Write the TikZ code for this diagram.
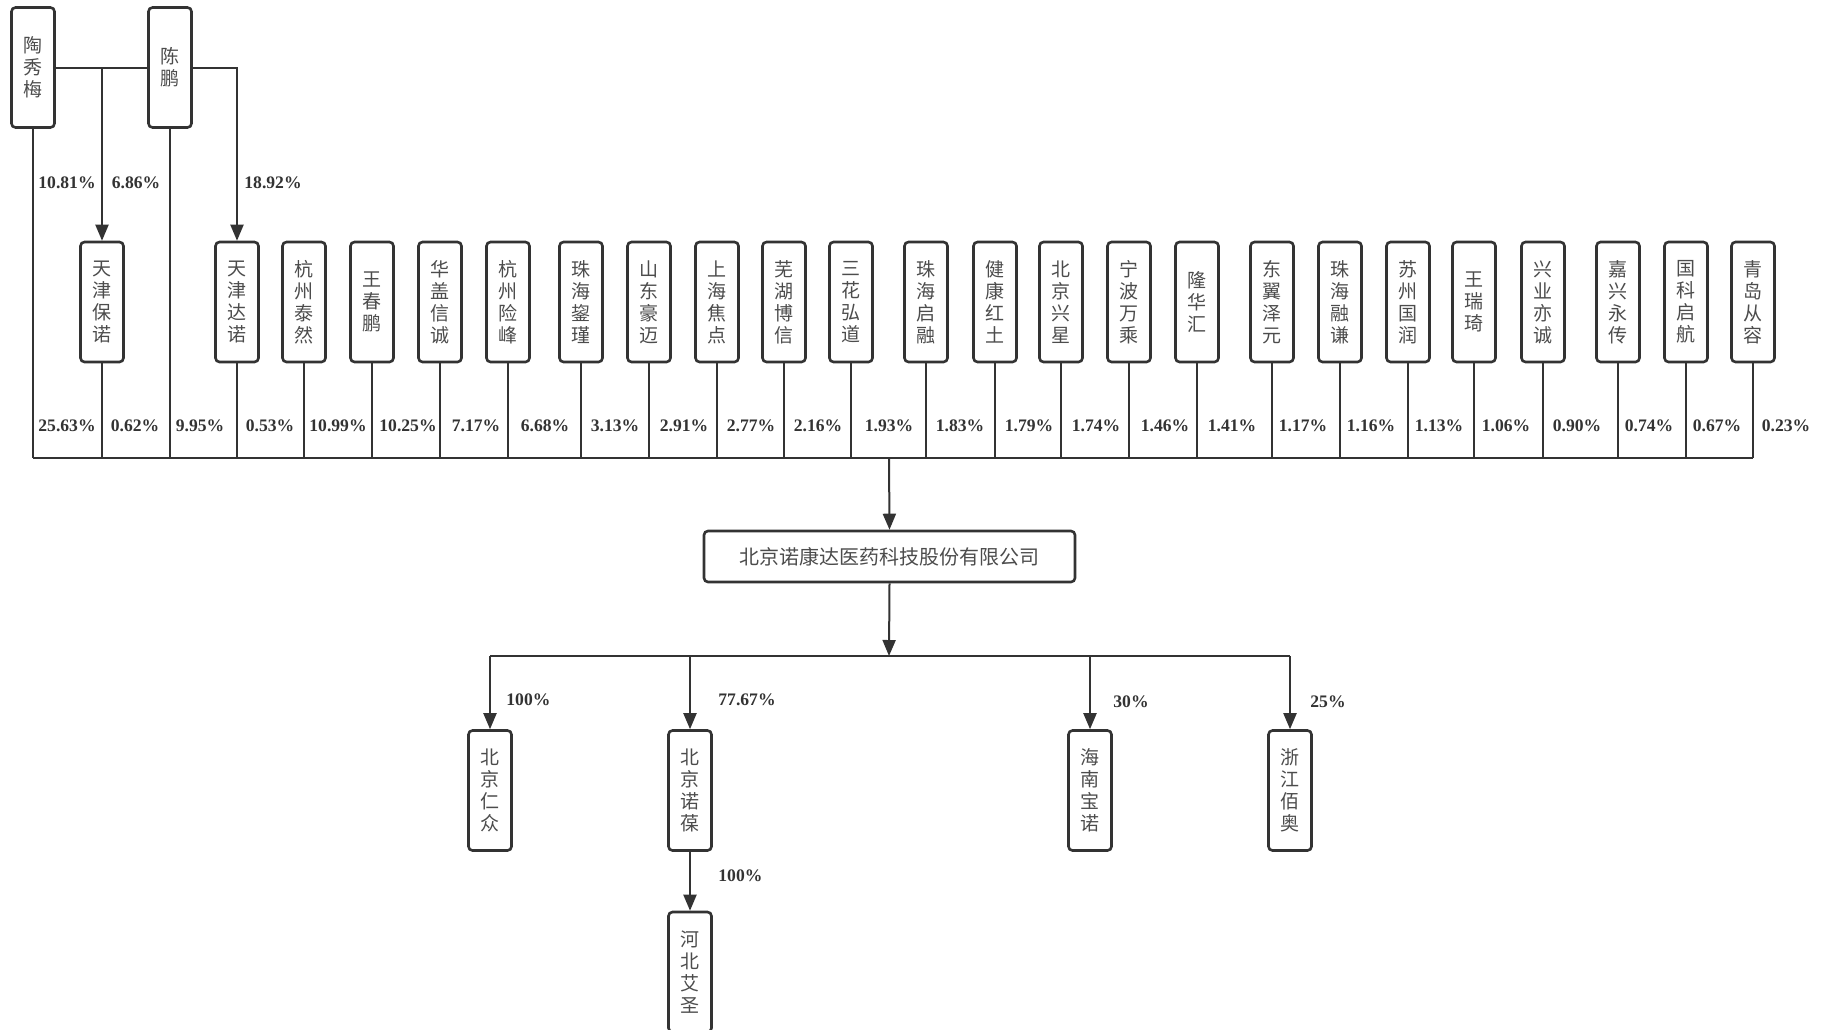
\documentclass[tikz,border=0pt]{standalone}
\usepackage{fontspec}
\setmainfont{Liberation Serif}
\newfontfamily\cjk{Noto Sans CJK SC}
\usetikzlibrary{arrows.meta, calc}

\begin{document}
\begin{tikzpicture}[
    x=0.5pt, y=-0.5pt,
    holder/.style={rectangle, draw=black!80, line width=1.3pt, rounded corners=2pt,
                   minimum width=21.5pt, minimum height=60pt, inner sep=0pt,
                   align=center, font=\cjk\fontsize{9.5}{11}\selectfont, text=black!70},
    comp/.style={rectangle, draw=black!80, line width=1.3pt, rounded corners=2pt,
                 minimum width=185.5pt, minimum height=25.5pt, inner sep=0pt,
                 font=\cjk\fontsize{10}{11}\selectfont, text=black!70},
    pct/.style={font=\bfseries\fontsize{8.8}{10}\selectfont, text=black!80, inner sep=0pt},
    wire/.style={line width=1pt, black!80},
    arr/.style={wire, -{Triangle[length=8pt, width=6.5pt]}},
  ]
    \useasboundingbox (0,0) rectangle (1825,1029);
    \coordinate (bus) at (889,458);
    \coordinate (bus2) at (889,656);
    % shareholders
    \foreach \k/\x/\y/\lx/\nm/\pct in {
        1/33/67.5/67/{陶\\秀\\梅}/25.63, 2/102/302/135/{天\\津\\保\\诺}/0.62,
        3/170/67.5/200/{陈\\鹏}/9.95, 4/237/302/270/{天\\津\\达\\诺}/0.53,
        5/304/302/338/{杭\\州\\泰\\然}/10.99, 6/372/302/408/{王\\春\\鹏}/10.25,
        7/440/302/476/{华\\盖\\信\\诚}/7.17, 8/508/302/545/{杭\\州\\险\\峰}/6.68,
        9/581/302/615/{珠\\海\\鋆\\瑾}/3.13, 10/649/302/684/{山\\东\\豪\\迈}/2.91,
        11/717/302/751/{上\\海\\焦\\点}/2.77, 12/784/302/818/{芜\\湖\\博\\信}/2.16,
        13/851/302/889/{三\\花\\弘\\道}/1.93, 14/926/302/960/{珠\\海\\启\\融}/1.83,
        15/995/302/1029/{健\\康\\红\\土}/1.79, 16/1061/302/1096/{北\\京\\兴\\星}/1.74,
        17/1129/302/1165/{宁\\波\\万\\乘}/1.46, 18/1197/302/1232/{隆\\华\\汇}/1.41,
        19/1272/302/1303/{东\\翼\\泽\\元}/1.17, 20/1340/302/1371/{珠\\海\\融\\谦}/1.16,
        21/1408/302/1439/{苏\\州\\国\\润}/1.13, 22/1474/302/1506/{王\\瑞\\琦}/1.06,
        23/1543/302/1577/{兴\\业\\亦\\诚}/0.90, 24/1618/302/1649/{嘉\\兴\\永\\传}/0.74,
        25/1686/302/1717/{国\\科\\启\\航}/0.67, 26/1753/302/1786/{青\\岛\\从\\容}/0.23}{
      \node[holder] (h\k) at (\x,\y) {\nm};
      \draw[wire] (h\k.south) -- (h\k.south |- bus);
      \node[pct] (p\k) at (\lx,426) {\pct\%};}
    \draw[wire] (h1.south |- bus) -- (h26.south |- bus);
    % 陶秀梅 / 陈鹏 -> 天津
    \draw[wire] (h1.east) -- (h3.west);
    \draw[arr] (h1.east -| h2.north) -- (h2.north);
    \draw[arr] (h3.east) -| (h4.north);
    \node[pct] (t1) at (67,183) {10.81\%};
    \node[pct] (t2) at (136,183) {6.86\%};
    \node[pct] (t3) at (273,183) {18.92\%};
    % company
    \node[comp] (nkd) at (889.5,556.5) {北京诺康达医药科技股份有限公司};
    \draw[arr] (bus) -- (nkd.north);
    \draw[arr] (nkd.south) -- (bus2);
    % subsidiaries
    \foreach \k/\x/\nm in {1/490/{北\\京\\仁\\众}, 2/690/{北\\京\\诺\\葆},
        3/1090/{海\\南\\宝\\诺}, 4/1290/{浙\\江\\佰\\奥}}{
      \node[holder] (s\k) at (\x,790.5) {\nm};}
    \node[holder] (s5) at (690,972) {河\\北\\艾\\圣};
    \draw[wire] (s1.north |- bus2) -- (s4.north |- bus2);
    \foreach \k in {1,...,4}\draw[arr] (s\k.north |- bus2) -- (s\k.north);
    \draw[arr] (s2.south) -- (s5.north);
    \node[pct, anchor=west] (q1) at (506,700) {100\%};
    \node[pct, anchor=west] (q2) at (718,700) {77.67\%};
    \node[pct, anchor=west] (q3) at (1113,702) {30\%};
    \node[pct, anchor=west] (q4) at (1310,702) {25\%};
    \node[pct, anchor=west] (q5) at (718,876) {100\%};
\end{tikzpicture}
\end{document}
